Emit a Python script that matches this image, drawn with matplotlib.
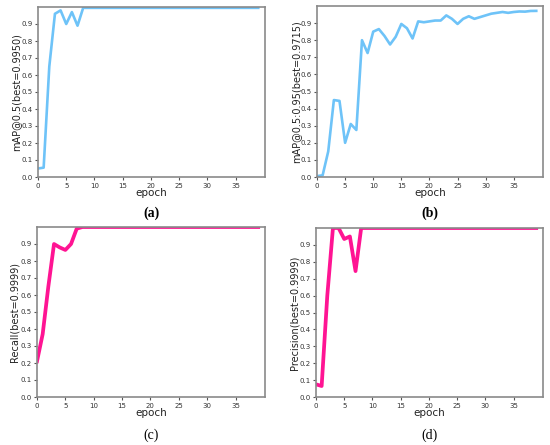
import matplotlib
matplotlib.use("Agg")
import matplotlib.pyplot as plt
import numpy as np

epochs = list(range(40))

map50 = [0.05, 0.055, 0.65, 0.96, 0.98, 0.90, 0.97, 0.89, 0.995] + [0.995] * 31

map5095 = [0.005, 0.01, 0.15, 0.45, 0.445, 0.20, 0.31, 0.275, 0.80, 0.725,
           0.85, 0.865, 0.825, 0.775, 0.82, 0.895, 0.87, 0.81, 0.91, 0.905,
           0.91, 0.915, 0.915, 0.945, 0.925, 0.895, 0.925, 0.94, 0.925, 0.935,
           0.945, 0.955, 0.96, 0.965, 0.96, 0.965, 0.968, 0.967, 0.971, 0.9715]

recall = [0.21, 0.37, 0.65, 0.90, 0.88, 0.865, 0.90, 0.99, 0.9999] + [0.9999] * 31

precision = [0.075, 0.065, 0.60, 1.0, 1.0, 0.935, 0.95, 0.745, 0.9999] + [0.9999] * 31

ylabels = ["mAP@0.5(best=0.9950)", "mAP@0.5:0.95(best=0.9715)",
           "Recall(best=0.9999)", "Precision(best=0.9999)"]
panel_tags = ["(a)", "(b)", "(c)", "(d)"]

blue = "#6ec3f8"
pink = "#ff1493"

fig = plt.figure(figsize=(5.5, 4.45), dpi=100)

# axes boxes in pixels: left, top, right, bottom
boxes = [
    (38, 7, 265, 177),
    (317, 6, 543, 177),
    (37, 227, 265, 397),
    (316, 228, 543, 397),
]
series = [map50, map5095, recall, precision]
colors = [blue, blue, pink, pink]
widths = [1.9, 1.9, 2.7, 2.7]
ylab_x = [16, 296, 15, 295]
tag_y = [213, 213, 435, 435]
tag_bold = [True, True, False, False]

W, H = 550, 445
for i in range(4):
    l, t, r, b = boxes[i]
    ax = fig.add_axes([l / W, 1 - b / H, (r - l) / W, (b - t) / H])
    ax.plot(epochs, series[i], color=colors[i], lw=widths[i])
    ax.set_xlim(0, 40.2)
    ax.set_ylim(0, 1.0)
    ax.set_xticks(range(0, 40, 5))
    ax.set_yticks(np.round(np.arange(0, 1.0, 0.1), 1))
    ax.tick_params(labelsize=5.0, length=2.5, width=0.8, color="#555555",
                   labelcolor="#333333", pad=1.5)
    for sp in ax.spines.values():
        sp.set_color("#8a8a8a")
        sp.set_linewidth(1.2)
    ax.set_xlabel("epoch", fontsize=7.5, color="#222222")
    ax.xaxis.set_label_coords((l + r) / 2 / W, 1 - 193 / H if i < 2 else 1 - 413 / H,
                              transform=fig.transFigure)
    ax.xaxis.label.set_va("center")
    ax.set_ylabel(ylabels[i], fontsize=7, color="#222222")
    ax.yaxis.set_label_coords(ylab_x[i] / W, 1 - (t + b) / 2 / H,
                              transform=fig.transFigure)
    ax.yaxis.label.set_va("center")
    fig.text((l + r) / 2 / W, 1 - tag_y[i] / H, panel_tags[i],
             ha="center", va="center", fontsize=10,
             family="Liberation Serif",
             weight="bold" if tag_bold[i] else "normal")

fig.savefig("out.png", dpi=100)
